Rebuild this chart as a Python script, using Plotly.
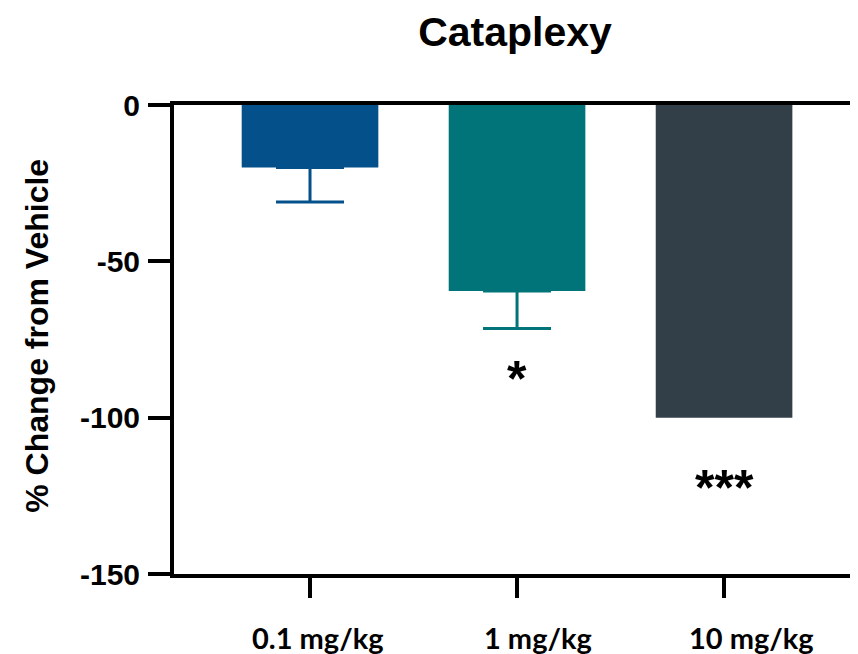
import plotly.graph_objects as go

categories = ["0.1 mg/kg", "1 mg/kg", "10 mg/kg"]
values = [-20, -59.5, -100]
sem = [11, 12, None]
colors = ["#03508A", "#017479", "#333F48"]
sig_labels = ["", "*", "***"]
yticks = [0, -50, -100, -150]

xpos = list(range(len(categories)))

# page has an 8px body margin; figure is sized to fit inside the 858x654 window
W, H = 850, 646
ML, MT, MB = 166, 97, 80
PH = H - MT - MB

fig = go.Figure()
for i, (c, v, e, col) in enumerate(zip(categories, values, sem, colors)):
    kw = {}
    if e is not None:
        kw["error_y"] = dict(type="data", symmetric=False, array=[0], arrayminus=[e],
                             color=col, thickness=3, width=34)
    fig.add_trace(go.Bar(x=[xpos[i]], y=[v], marker=dict(color=col, line=dict(width=0)),
                         width=0.66, showlegend=False, **kw))

sig_pos = [None, -87.6, -122.6]
for i, lab in enumerate(sig_labels):
    if lab:
        fig.add_annotation(x=xpos[i], y=sig_pos[i], text="<b>%s</b>" % lab, showarrow=False,
                           font=dict(family="Liberation Sans", size=50, color="black"),
                           xanchor="center", yanchor="middle")

# category labels (slightly offset to the right of their ticks, as in the original)
label_shift = [8, 21, 27]
for i, c in enumerate(categories):
    fig.add_annotation(x=xpos[i], xref="x", yref="paper", y=-(629 - (H - MB)) / PH,
                       text="<b>%s</b>" % c, showarrow=False, xshift=label_shift[i],
                       xanchor="center", yanchor="middle",
                       font=dict(family="Lato", size=29, color="black"))

fig.add_annotation(text="<b>% Change from Vehicle</b>", textangle=-90, showarrow=False,
                   xref="paper", yref="paper", x=(29 - ML) / (W - ML), y=0.508,
                   xanchor="center", yanchor="middle",
                   font=dict(family="Liberation Sans", size=32, color="black"))

fig.update_layout(
    width=W, height=H,
    margin=dict(l=ML, r=0, t=MT, b=MB, pad=0),
    paper_bgcolor="white", plot_bgcolor="white",
    barmode="overlay",
    title=dict(text="<b>Cataplexy</b>", x=507 / W, xanchor="center", xref="container",
               y=1 - 24 / H, yanchor="middle", yref="container",
               font=dict(family="Liberation Sans", size=41, color="black")),
    xaxis=dict(range=[-0.657, 2.647], tickmode="array", tickvals=xpos,
               showticklabels=False,
               showline=True, linecolor="black", linewidth=4, mirror=True,
               ticks="outside", ticklen=20, tickwidth=4, tickcolor="black",
               showgrid=False, zeroline=False),
    yaxis=dict(range=[-150, 0], tickmode="array", tickvals=yticks,
               ticktext=["<b>%d</b>" % t for t in yticks],
               showline=True, linecolor="black", linewidth=4,
               ticks="outside", ticklen=22, tickwidth=4, tickcolor="black",
               showgrid=False, zeroline=False, ticklabelstandoff=2,
               tickfont=dict(family="Liberation Sans", size=30, color="black")),
)

fig.write_html("out.html")
